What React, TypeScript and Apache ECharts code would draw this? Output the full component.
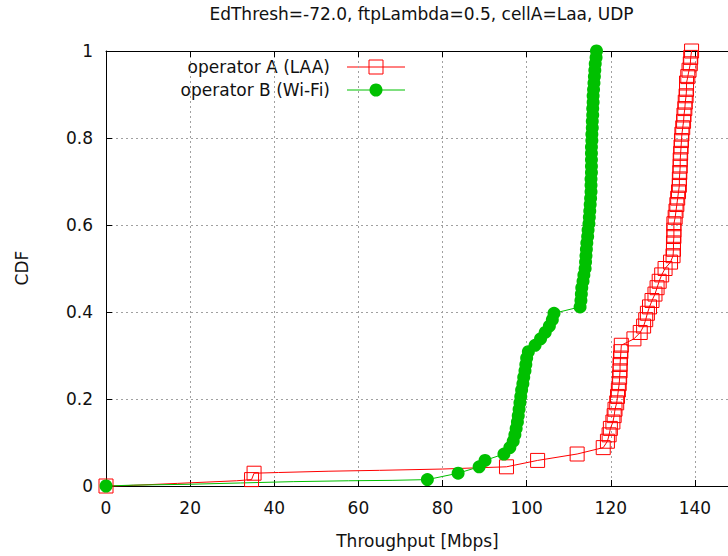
import React, { useEffect, useRef } from "react";
import * as echarts from "echarts";

// Throughput samples (Mbps) at the marker positions, sorted (empirical CDF)
const operatorAThroughput = [
  0, 34.6, 35.2, 95.2, 102.6, 112.0, 118.2, 119.2, 119.6, 119.9, 120.5, 120.8, 121.0, 121.4,
  121.6, 121.8, 122.0, 122.1, 122.2, 122.2, 122.3, 122.4, 122.5, 125.5, 127.0, 127.8, 128.3,
  128.7, 129.2, 129.8, 130.5, 131.0, 131.5, 132.1, 132.9, 134.2, 134.8, 134.9, 134.9, 135.0,
  135.0, 135.0, 135.3, 135.5, 135.7, 135.9, 136.1, 136.3, 136.3, 136.4, 136.5, 136.5, 136.6,
  136.7, 136.8, 136.9, 137.1, 137.3, 137.4, 137.6, 137.7, 137.9, 138.0, 138.0, 138.3, 138.6,
  138.9, 139.0, 139.2,
];
const operatorBThroughput = [
  0, 76.4, 83.7, 88.7, 90.1, 94.6, 96.0, 96.8, 97.2, 97.5, 97.8, 98.0, 98.2, 98.4, 98.6, 98.8,
  99.1, 99.3, 99.6, 99.8, 100.0, 100.4, 102.0, 103.3, 104.4, 105.4, 106.1, 106.5, 112.7, 112.9,
  113.0, 113.1, 113.4, 113.6, 113.9, 114.0, 114.1, 114.2, 114.3, 114.5, 114.6, 114.8, 114.9,
  115.0, 115.1, 115.2, 115.3, 115.3, 115.3, 115.4, 115.4, 115.4, 115.4, 115.4, 115.5, 115.5,
  115.6, 115.6, 115.7, 115.7, 115.8, 115.8, 115.9, 116.0, 116.1, 116.2, 116.3, 116.5, 116.6,
];
// Samples between markers (line only, no marker): [throughput, cdf]
const operatorABetween: [number, number][] = [
  [5, 0.001], [10, 0.003], [17, 0.006], [24, 0.009], [31, 0.012],
  [41, 0.031], [53, 0.034], [65, 0.036], [80, 0.039],
];
const operatorBBetween: [number, number][] = [
  [6.5, 0.002], [20, 0.004], [32, 0.007], [44.5, 0.01], [57.6, 0.012], [68, 0.013],
];

const seriesNames = ["operator A (LAA)", "operator B (Wi-Fi)"];
const seriesColors = ["#ff0000", "#00c000"];
const titleText = "EdThresh=-72.0, ftpLambda=0.5, cellA=Laa, UDP";
const xLabel = "Throughput [Mbps]";
const yLabel = "CDF";

const FONT = "DejaVu Sans";
const FS = 17;
const TEXT_COLOR = "#111";

function buildData(samples: number[], between: [number, number][]) {
  const n = samples.length;
  const pts: { cdf: number; item: any }[] = samples.map((x, i) => ({
    cdf: i / (n - 1),
    item: { value: [x, i / (n - 1)] },
  }));
  between.forEach(([x, c]) =>
    pts.push({ cdf: c, item: { value: [x, c], symbol: "none" } })
  );
  pts.sort((a, b) => a.cdf - b.cdf);
  return pts.map((p) => p.item);
}

export default function App() {
  const ref = useRef<HTMLDivElement>(null);
  useEffect(() => {
    document.body.style.margin = "0";
    const chart = echarts.init(ref.current!, null, { renderer: "svg" });
    const textStyle = { fontFamily: FONT, fontSize: FS, color: TEXT_COLOR };
    const legendY = [67, 90];
    const gridLeft = 106;
    const gridWidth = 631;
    const option: any = {
      animation: false,
      textStyle: { fontFamily: FONT },
      grid: {
        left: gridLeft,
        width: gridWidth,
        top: 51,
        height: 435,
        containLabel: false,
        outerBoundsMode: "none",
      },
      xAxis: [
        {
          type: "value",
          min: 0,
          max: 150,
          interval: 20,
          axisLine: { show: true, lineStyle: { color: "#000", width: 1 } },
          axisTick: { show: true, inside: true, length: 6, lineStyle: { color: "#000" } },
          axisLabel: { ...textStyle, margin: 13, showMaxLabel: false },
          splitLine: { show: true, lineStyle: { color: "#a0a0a0", type: [2, 3], width: 1 } },
        },
        {
          type: "value",
          position: "top",
          min: 0,
          max: 150,
          interval: 20,
          axisLine: { show: true, lineStyle: { color: "#000", width: 1 } },
          axisTick: { show: true, inside: true, length: 6, lineStyle: { color: "#000" } },
          axisLabel: { show: false },
          splitLine: { show: false },
        },
      ],
      yAxis: {
        type: "value",
        min: 0,
        max: 1,
        interval: 0.2,
        axisLine: { show: true, lineStyle: { color: "#000", width: 1 } },
        axisTick: { show: true, inside: true, length: 6, lineStyle: { color: "#000" } },
        axisLabel: {
          ...textStyle,
          margin: 13,
          formatter: (v: number) => (v === 0 ? "0" : v === 1 ? "1" : v.toFixed(1)),
        },
        splitLine: { show: true, lineStyle: { color: "#a0a0a0", type: [2, 3], width: 1 } },
      },
      series: [
        {
          name: seriesNames[0],
          type: "line",
          clip: false,
          data: buildData(operatorAThroughput, operatorABetween),
          symbol: "rect",
          symbolSize: 14,
          lineStyle: { color: seriesColors[0], width: 1 },
          itemStyle: { color: "rgba(0,0,0,0)", borderColor: seriesColors[0], borderWidth: 1 },
          emphasis: { disabled: true },
        },
        {
          name: seriesNames[1],
          type: "line",
          clip: false,
          data: buildData(operatorBThroughput, operatorBBetween),
          symbol: "circle",
          symbolSize: 13,
          lineStyle: { color: seriesColors[1], width: 1 },
          itemStyle: { color: seriesColors[1], borderWidth: 0 },
          emphasis: { disabled: true },
        },
      ],
      graphic: [
        {
          type: "text",
          x: gridLeft + gridWidth / 2,
          y: 14,
          style: {
            text: titleText,
            fontFamily: FONT,
            fontSize: FS,
            fill: TEXT_COLOR,
            align: "center",
            verticalAlign: "middle",
          },
        },
        {
          type: "text",
          x: gridLeft + gridWidth / 2 - 4,
          y: 541,
          style: {
            text: xLabel,
            fontFamily: FONT,
            fontSize: FS,
            fill: TEXT_COLOR,
            align: "center",
            verticalAlign: "middle",
          },
        },
        {
          type: "text",
          x: 22,
          y: 268,
          rotation: Math.PI / 2,
          style: {
            text: yLabel,
            fontFamily: FONT,
            fontSize: FS,
            fill: TEXT_COLOR,
            align: "center",
            verticalAlign: "middle",
          },
        },
        ...seriesNames.flatMap((name, i) => {
          const y = legendY[i];
          const items: any[] = [
            {
              type: "text",
              x: 330,
              y,
              style: {
                text: name,
                fontFamily: FONT,
                fontSize: FS,
                fill: TEXT_COLOR,
                align: "right",
                verticalAlign: "middle",
              },
            },
            {
              type: "line",
              shape: { x1: 347, y1: y, x2: 405, y2: y },
              style: { stroke: seriesColors[i], lineWidth: 1 },
            },
          ];
          if (i === 0) {
            items.push({
              type: "rect",
              shape: { x: 369, y: y - 7, width: 14, height: 14 },
              style: { fill: "rgba(0,0,0,0)", stroke: seriesColors[i], lineWidth: 1 },
            });
          } else {
            items.push({
              type: "circle",
              shape: { cx: 376, cy: y, r: 6.5 },
              style: { fill: seriesColors[i] },
            });
          }
          return items;
        }),
      ],
    };
    chart.setOption(option);
    return () => chart.dispose();
  }, []);
  return <div ref={ref} style={{ width: 728, height: 556 }} />;
}
